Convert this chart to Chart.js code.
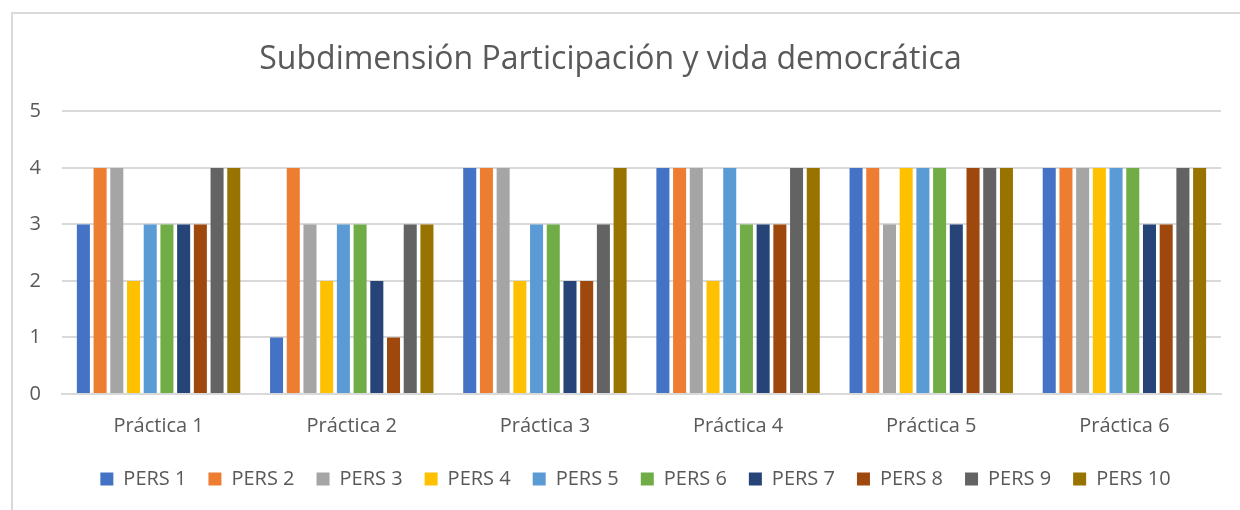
<!DOCTYPE html>
<html>
<head>
<meta charset="utf-8">
<script src="https://cdn.jsdelivr.net/npm/chart.js@4"></script>
<style>
    html, body { margin: 0; padding: 0; background: #fff; }
    #wrap { position: absolute; left: 0; top: 0; width: 1240px; height: 510px; }
    #frame { position: absolute; left: 11px; top: 12px; width: 1240px; height: 510px;
             border-left: 2px solid #d9d9d9; border-top: 2px solid #d9d9d9; }
</style>
</head>
<body>
<div id="wrap">
    <div id="frame"></div>
    <canvas id="grafico" width="1240" height="510"></canvas>
</div>
<script>
const practicas = ['Práctica 1', 'Práctica 2', 'Práctica 3', 'Práctica 4', 'Práctica 5', 'Práctica 6'];
const personas = ['PERS 1', 'PERS 2', 'PERS 3', 'PERS 4', 'PERS 5', 'PERS 6', 'PERS 7', 'PERS 8', 'PERS 9', 'PERS 10'];
const colores = ['#4472c4', '#ed7d31', '#a5a5a5', '#ffc000', '#5b9bd5', '#70ad47', '#264478', '#9e480e', '#636363', '#997300'];

// una fila por persona, un valor por práctica
const pers1 = [3, 1, 4, 4, 4, 4];
const pers2 = [4, 4, 4, 4, 4, 4];
const pers3 = [4, 3, 4, 4, 3, 4];
const pers4 = [2, 2, 2, 2, 4, 4];
const pers5 = [3, 3, 3, 4, 4, 4];
const pers6 = [3, 3, 3, 3, 4, 4];
const pers7 = [3, 2, 2, 3, 3, 3];
const pers8 = [3, 1, 2, 3, 4, 3];
const pers9 = [4, 3, 3, 4, 4, 4];
const pers10 = [4, 3, 4, 4, 4, 4];

const yTicks = [0, 1, 2, 3, 4, 5];

const valores = [pers1, pers2, pers3, pers4, pers5, pers6, pers7, pers8, pers9, pers10];
const fuente = "'Open Sans', 'Liberation Sans', sans-serif";
const gris = '#595959';

let datasets = [];
personas.forEach((nombre, i) => {
    datasets.push({
        label: nombre,
        data: valores[i],
        backgroundColor: colores[i],
        borderWidth: 0,
        categoryPercentage: 0.865,
        barPercentage: 0.78
    });
});

// la leyenda del original esta un poco a la derecha
const moverLeyenda = {
    id: 'moverLeyenda',
    beforeDraw(chart) {
        chart.legend.left += 25;
        chart.legend.right += 25;
    }
};

let ctx = document.getElementById('grafico').getContext('2d');
const config = {
    type: 'bar',
    data: {
        labels: practicas,
        datasets: datasets
    },
    options: {
        responsive: false,
        animation: false,
        layout: {
            padding: { left: 0, right: 19, top: 0, bottom: 11 }
        },
        plugins: {
            title: {
                display: true,
                text: 'Subdimensión Participación y vida democrática',
                color: gris,
                font: { family: fuente, size: 32, weight: 'normal' },
                padding: { top: 41, bottom: 32 }
            },
            legend: {
                position: 'bottom',
                labels: {
                    color: gris,
                    font: { family: fuente, size: 20 },
                    boxWidth: 13,
                    boxHeight: 13,
                    padding: 22
                }
            },
            tooltip: { enabled: false }
        },
        scales: {
            x: {
                afterFit: scale => { scale.height = 53; },
                grid: { display: false },
                border: { color: '#d9d9d9', width: 2 },
                ticks: { color: gris, font: { family: fuente, size: 20 }, padding: 12 }
            },
            y: {
                min: 0,
                max: 5,
                afterFit: scale => { scale.width = 62; },
                afterBuildTicks: scale => { scale.ticks = yTicks.map(v => ({ value: v })); },
                grid: { color: '#d9d9d9', lineWidth: 2, drawTicks: false },
                border: { display: false },
                ticks: { color: gris, font: { family: fuente, size: 20 }, padding: 21, stepSize: 1 }
            }
        }
    },
    plugins: [moverLeyenda]
};

const chart = new Chart(ctx, config);
</script>
</body>
</html>
